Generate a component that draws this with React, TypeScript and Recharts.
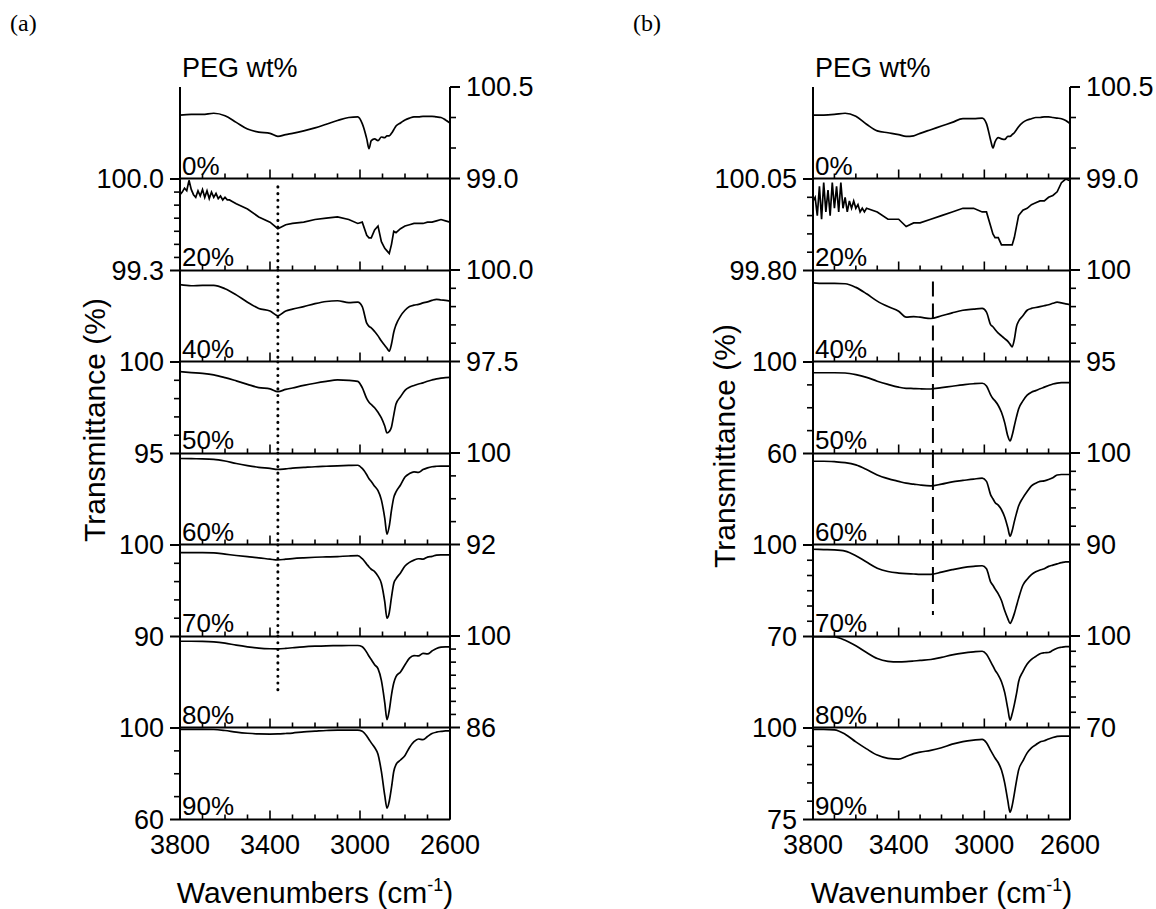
import React from 'react';
import { LineChart, Line, XAxis, YAxis, ReferenceLine } from 'recharts';

// wavenumber grid (cm-1) used by the smooth traces
const WN = [
  3800, 3750, 3700, 3650, 3600, 3550, 3500, 3450, 3400, 3365, 3330, 3300, 3250, 3200, 3150,
  3100, 3050, 3010, 2990, 2970, 2960, 2950, 2935, 2920, 2905, 2890, 2880, 2870, 2860, 2850,
  2840, 2820, 2800, 2780, 2760, 2740, 2720, 2700, 2680, 2660, 2640, 2620, 2600,
];
// the 20 % traces are noisy at the high end, so they get a denser start
const WN_NOISY_HEAD = [
  3800, 3790, 3780, 3770, 3760, 3750, 3740, 3730, 3720, 3710, 3700, 3690, 3680, 3670, 3660,
  3650, 3640, 3630, 3620, 3610, 3600, 3590, 3580, 3570, 3560,
];
const WN_NOISY = [...WN_NOISY_HEAD, ...WN.slice(5)];

const LAYER_LABELS = ['0%', '20%', '40%', '50%', '60%', '70%', '80%', '90%'];
const X_TICKS = [3800, 3700, 3600, 3500, 3400, 3300, 3200, 3100, 3000, 2900, 2800, 2700, 2600];
const X_LABELS = [3800, 3400, 3000, 2600];

// ---- panel (a) transmittance (%) ----
const A_0 = [
  100.04, 100.05, 100.05, 100.07, 100.03, 99.92, 99.81, 99.76, 99.74, 99.69, 99.72, 99.74, 99.78,
  99.83, 99.89, 99.95, 100.0, 100.01, 99.9, 99.65, 99.49, 99.62, 99.65, 99.62, 99.68, 99.67, 99.7,
  99.7, 99.74, 99.8, 99.86, 99.91, 99.96, 99.99, 100.01, 100.01, 100.02, 100.02, 100.02, 100.01,
  100.0, 99.96, 99.91,
];
const A_20 = [
  99.88, 99.9, 99.93, 99.91, 99.99, 99.92, 99.88, 99.86, 99.91, 99.87, 99.92, 99.86, 99.91, 99.85,
  99.9, 99.86, 99.89, 99.85, 99.87, 99.84, 99.86, 99.84, 99.84, 99.83, 99.82,
  99.81, 99.77, 99.71, 99.67, 99.62, 99.65, 99.66, 99.67, 99.69, 99.7, 99.71, 99.69, 99.66, 99.67,
  99.57, 99.55, 99.55, 99.61, 99.64, 99.52, 99.47, 99.45, 99.43, 99.5, 99.6, 99.59, 99.62, 99.64,
  99.65, 99.66, 99.66, 99.66, 99.67, 99.67, 99.68, 99.69, 99.68, 99.67,
];
const A_40 = [
  99.6, 99.57, 99.58, 99.58, 99.49, 99.32, 99.12, 98.95, 98.88, 98.75, 98.88, 98.93, 99.0, 99.08,
  99.14, 99.16, 99.11, 99.12, 99.0, 98.55, 98.46, 98.42, 98.32, 98.2, 98.06, 97.94, 97.86, 97.78,
  97.98, 98.3, 98.5, 98.74, 98.9, 99.0, 99.04, 99.06, 99.1, 99.13, 99.17, 99.2, 99.18, 99.17, 99.15,
];
const A_50 = [
  99.47, 99.42, 99.38, 99.3, 99.15, 98.97, 98.78, 98.6, 98.53, 98.38, 98.5, 98.58, 98.72, 98.84,
  98.94, 99.02, 99.0, 98.94, 98.6, 98.0, 97.8, 97.68, 97.5, 97.25, 96.95, 96.5, 96.12, 96.2, 96.45,
  97.1, 97.7, 98.1, 98.45, 98.62, 98.72, 98.8, 98.86, 98.95, 99.02, 99.08, 99.12, 99.15, 99.16,
];
const A_60 = [
  99.52, 99.5, 99.49, 99.45, 99.3, 99.08, 98.9, 98.75, 98.65, 98.56, 98.62, 98.68, 98.74, 98.8,
  98.84, 98.88, 98.91, 98.93, 98.65, 98.1, 97.75, 97.5, 97.1, 96.7, 95.9, 94.3, 92.9, 93.6, 95.0,
  96.1, 96.6, 97.2, 97.9, 98.2, 98.35, 98.3, 98.55, 98.7, 98.8, 98.84, 98.86, 98.85, 98.85,
];
const A_70 = [
  99.16, 99.16, 99.16, 99.14, 99.0, 98.85, 98.72, 98.6, 98.45, 98.36, 98.45, 98.52, 98.6, 98.66,
  98.7, 98.74, 98.8, 98.83, 98.5, 97.9, 97.6, 97.35, 97.1, 96.6, 95.8, 93.8, 92.0, 92.6, 94.3, 95.8,
  96.3, 96.95, 97.7, 98.1, 98.35, 98.5, 98.45, 98.68, 98.75, 98.9, 98.92, 98.92, 98.92,
];
const A_80 = [
  99.2, 99.2, 99.18, 99.1, 98.9, 98.6, 98.35, 98.15, 98.05, 98.03, 98.1, 98.2, 98.35, 98.44, 98.5,
  98.52, 98.55, 98.55, 98.35, 97.5, 96.9, 96.4, 95.6, 95.0, 93.2, 89.8, 87.2, 88.6, 91.0, 92.8,
  93.8, 94.5, 95.6, 96.6, 97.0, 96.95, 97.35, 97.25, 97.7, 98.1, 98.3, 98.35, 98.35,
];
const A_90 = [
  99.4, 99.4, 99.4, 99.35, 98.9, 98.2, 97.7, 97.4, 97.35, 97.4, 97.6, 97.8, 98.3, 98.6, 98.9, 99.1,
  99.1, 99.1, 98.6, 96.5, 95.0, 93.5, 91.5, 88.5, 81.0, 70.5, 65.0, 68.0, 74.0, 81.0, 84.0, 86.0,
  88.0, 91.5, 94.0, 95.2, 94.9, 96.3, 97.6, 98.2, 98.5, 98.7, 98.7,
];

// ---- panel (b) transmittance (%) ----
const B_0 = [
  100.04, 100.04, 100.05, 100.07, 100.02, 99.89, 99.78, 99.75, 99.72, 99.69, 99.7, 99.74, 99.8,
  99.86, 99.92, 99.98, 99.98, 99.99, 99.9, 99.62, 99.5, 99.6, 99.67, 99.65, 99.64, 99.69, 99.69,
  99.72, 99.75, 99.8, 99.85, 99.92, 99.96, 99.98, 100.0, 100.0, 100.01, 100.01, 100.0, 99.99,
  99.98, 99.95, 99.9,
];
const B_20 = [
  99.99, 100.0, 99.95, 100.03, 99.94, 100.04, 99.96, 100.02, 99.95, 100.04, 99.97, 100.03, 99.96,
  100.04, 99.97, 100.0, 99.96, 99.99, 99.97, 99.99, 99.97, 99.98, 99.96, 99.97, 99.96,
  99.97, 99.96, 99.94, 99.94, 99.92, 99.93, 99.93, 99.94, 99.95, 99.96, 99.97, 99.97, 99.96, 99.96,
  99.92, 99.9, 99.89, 99.89, 99.87, 99.87, 99.87, 99.87, 99.87, 99.89, 99.92, 99.95, 99.965, 99.97,
  99.98, 99.985, 99.99, 99.99, 100.0, 100.005, 100.015, 100.04, 100.05, 100.045,
];
const B_40 = [
  99.3, 99.27, 99.27, 99.25, 99.05, 98.7, 98.3, 98.0, 97.75, 97.42, 97.45, 97.42, 97.35, 97.5,
  97.66, 97.8, 97.86, 97.9, 97.7, 97.0, 96.9, 96.75, 96.55, 96.4, 96.25, 96.1, 95.95, 95.8, 96.2,
  96.9, 97.2, 97.5, 97.8, 97.9, 97.95, 98.0, 98.05, 98.1, 98.18, 98.24, 98.2, 98.15, 98.11,
];
const B_50 = [
  95.3, 95.3, 95.3, 95.2, 94.5, 93.3, 91.6, 90.2, 89.0, 88.5, 88.4, 88.3, 88.2, 88.8, 89.4, 90.0,
  90.5, 90.7, 89.5, 85.5, 84.0, 83.0, 81.0, 78.0, 73.5, 67.5, 65.5, 68.0, 72.0, 76.0, 79.5, 83.0,
  85.5, 86.8, 87.5, 88.3, 89.0, 89.7, 90.4, 90.8, 91.0, 91.0, 91.0,
];
const B_60 = [
  99.1, 99.1, 99.05, 98.95, 98.7, 98.2, 97.6, 97.2, 96.9, 96.7, 96.6, 96.5, 96.4, 96.6, 96.85, 97.0,
  97.15, 97.25, 96.9, 95.4, 95.0, 94.6, 94.3, 93.8, 93.0, 91.8, 90.9, 91.5, 92.5, 93.4, 94.2, 95.1,
  95.8, 96.4, 96.7, 96.9, 96.95, 97.1, 97.3, 97.6, 97.65, 97.65, 97.65,
];
const B_70 = [
  98.6, 98.5, 98.4, 98.0, 96.5, 94.4, 92.4, 91.3, 90.8, 90.6, 90.5, 90.4, 90.4, 91.1, 91.9, 92.6,
  93.0, 93.2, 92.2, 87.8, 86.8, 85.6, 84.0, 81.8, 78.5, 75.8, 74.3, 75.5, 77.5, 80.0, 82.5, 86.8,
  88.8, 90.3, 91.2, 91.8, 92.2, 93.0, 93.4, 93.8, 94.2, 94.5, 94.5,
];
const B_80 = [
  99.8, 99.8, 99.7, 98.6, 96.8, 94.6, 92.6, 91.7, 91.5, 91.6, 91.8, 92.0, 92.3, 93.0, 93.8, 94.4,
  94.8, 95.0, 94.0, 91.5, 90.2, 88.8, 87.2, 85.0, 81.5, 76.0, 72.4, 74.5, 77.5, 81.0, 85.0, 88.3,
  90.8, 92.3, 93.3, 94.2, 94.5, 94.6, 95.3, 96.0, 96.3, 96.5, 96.5,
];
const B_90 = [
  99.6, 99.6, 99.5, 98.3, 96.2, 94.3, 92.6, 91.7, 91.5, 92.2, 93.0, 93.4, 93.9, 94.6, 95.6, 96.3,
  96.7, 96.9, 96.0, 93.8, 92.8, 91.8, 90.5, 88.5, 85.0, 80.0, 77.0, 78.8, 82.0, 85.5, 88.5, 91.0,
  93.2, 94.6, 95.4, 96.2, 96.5, 97.0, 97.4, 97.7, 97.8, 97.8, 97.8,
];

// y ticks for each layer, first/last value is labelled
const A_YTICKS = [
  [99.0, 99.5, 100.0, 100.5],
  [99.3, 99.4, 99.5, 99.6, 99.7, 99.8, 99.9, 100.0],
  [97.5, 98.0, 98.5, 99.0, 99.5, 100.0],
  [95, 96, 97, 98, 99, 100],
  [92, 94, 96, 98, 100],
  [90, 92, 94, 96, 98, 100],
  [86, 88, 90, 92, 94, 96, 98, 100],
  [60, 70, 80, 90, 100],
];
const A_DIGITS = [1, 1, 1, 0, 0, 0, 0, 0];
const B_YTICKS = [
  [99.0, 99.5, 100.0, 100.5],
  [99.8, 99.85, 99.9, 99.95, 100.0, 100.05],
  [95, 96, 97, 98, 99, 100],
  [60, 70, 80, 90, 100],
  [90, 92, 94, 96, 98, 100],
  [70, 75, 80, 85, 90, 95, 100],
  [70, 75, 80, 85, 90, 95, 100],
  [75, 80, 85, 90, 95, 100],
];
const B_DIGITS = [1, 2, 0, 0, 0, 0, 0, 0];

// marker lines: wavenumber, first layer + top value, last layer + bottom value
const A_GUIDE = { wn: 3365, first: 1, from: 99.94, last: 6, to: 91.4 };
const B_GUIDE = { wn: 3240, first: 2, from: 99.37, last: 5, to: 77.05 };

const FONT = '"Liberation Sans", Arial, sans-serif';
const TOP = 87;
const LAYER_H = 91.5;
const PAD = 22;
const BOTTOM_PAD = 46;
const AXW = 125;
const XAX_H = 1;

const PANELS = [
  {
    key: 'a',
    left: 180,
    width: 270,
    wns: [WN, WN_NOISY, WN, WN, WN, WN, WN, WN],
    series: [A_0, A_20, A_40, A_50, A_60, A_70, A_80, A_90],
    yTicks: A_YTICKS,
    digits: A_DIGITS,
    guide: A_GUIDE,
    guideStyle: { dash: '0.1 6.6', width: 3, cap: 'round' as const },
    tag: '(a)',
    tagX: 10,
    xTitle: 'Wavenumbers (cm',
    yTitleX: 105,
    yTitleY: 420,
  },
  {
    key: 'b',
    left: 813,
    width: 257,
    wns: [WN, WN_NOISY, WN, WN, WN, WN, WN, WN],
    series: [B_0, B_20, B_40, B_50, B_60, B_70, B_80, B_90],
    yTicks: B_YTICKS,
    digits: B_DIGITS,
    guide: B_GUIDE,
    guideStyle: { dash: '15 7', width: 2, cap: 'butt' as const },
    tag: '(b)',
    tagX: 633,
    xTitle: 'Wavenumber (cm',
    yTitleX: 735,
    yTitleY: 446,
  },
];

function XTick(props: any) {
  const { x, y, payload, showLabel } = props;
  const major = X_LABELS.includes(payload.value);
  return (
    <g>
      <line x1={x} y1={y} x2={x} y2={y - (major ? 9 : 5)} stroke="#000" strokeWidth={1.6} />
      {showLabel && major && (
        <text x={x} y={y + 34} textAnchor="middle" fontSize={27} fontFamily={FONT} fill="#000">
          {payload.value}
        </text>
      )}
    </g>
  );
}

function YTick(props: any) {
  const { x, y, payload, side, lo, hi, digits } = props;
  const v = payload.value;
  const major = v === lo || v === hi;
  const dir = side === 'left' ? -1 : 1;
  return (
    <g>
      <line x1={x} y1={y} x2={x + dir * (major ? 10 : 6)} y2={y} stroke="#000" strokeWidth={major ? 2 : 1.6} />
      {major && (
        <text
          x={x + dir * 16}
          y={y}
          dy="0.34em"
          textAnchor={side === 'left' ? 'end' : 'start'}
          fontSize={27}
          fontFamily={FONT}
          fill="#000"
        >
          {v.toFixed(digits)}
        </text>
      )}
    </g>
  );
}

function Layer({ p, i }: { p: (typeof PANELS)[number]; i: number }) {
  const ticks = p.yTicks[i];
  const lo = ticks[0];
  const hi = ticks[ticks.length - 1];
  const side = i % 2 === 0 ? 'right' : 'left';
  const last = i === 7;
  const bottomPad = last ? BOTTOM_PAD : PAD;
  const data = p.wns[i].map((wn, k) => ({ wn, t: p.series[i][k] }));
  const g = p.guide;
  const inGuide = i >= g.first && i <= g.last;

  const yAxis = (id: 'left' | 'right') => (
    <YAxis
      yAxisId={id}
      orientation={id}
      width={AXW}
      type="number"
      domain={[lo, hi]}
      ticks={ticks}
      interval={0}
      allowDataOverflow
      tickSize={0}
      tickMargin={0}
      tickLine={false}
      axisLine={{ stroke: '#000', strokeWidth: 2 }}
      tick={id === side ? (tp: any) => <YTick {...tp} side={id} lo={lo} hi={hi} digits={p.digits[i]} /> : false}
    />
  );

  return (
    <div style={{ position: 'absolute', left: p.left - AXW, top: TOP + i * LAYER_H - PAD }}>
      <LineChart
        width={AXW * 2 + p.width}
        height={LAYER_H + PAD + bottomPad}
        data={data}
        margin={{ top: PAD, right: 0, bottom: bottomPad - XAX_H, left: 0 }}
      >
        <XAxis
          type="number"
          dataKey="wn"
          domain={[2600, 3800]}
          reversed
          ticks={X_TICKS}
          interval={0}
          height={XAX_H}
          tickSize={0}
          tickMargin={0}
          tickLine={false}
          allowDataOverflow
          axisLine={{ stroke: '#000', strokeWidth: 2 }}
          tick={(tp: any) => <XTick {...tp} showLabel={last} />}
        />
        {yAxis('left')}
        {yAxis('right')}
        <Line
          yAxisId={side}
          dataKey="t"
          type={i === 1 ? 'linear' : 'monotone'}
          stroke="#000"
          strokeWidth={1.7}
          dot={false}
          activeDot={false}
          isAnimationActive={false}
        />
        {inGuide && (
          <ReferenceLine
            yAxisId={side}
            segment={[
              { x: g.wn, y: i === g.first ? g.from : hi },
              { x: g.wn, y: i === g.last ? g.to : lo },
            ]}
            stroke="#000"
            strokeWidth={p.guideStyle.width}
            strokeDasharray={p.guideStyle.dash}
            strokeLinecap={p.guideStyle.cap}
          />
        )}
      </LineChart>
    </div>
  );
}

function Texts() {
  return (
    <svg
      width={1156}
      height={909}
      style={{ position: 'absolute', left: 0, top: 0, pointerEvents: 'none' }}
      fontFamily={FONT}
      fill="#000"
    >
      {PANELS.map((p) => (
        <g key={p.key}>
          <text x={p.tagX} y={31} fontSize={24} fontFamily='"Liberation Serif", "Times New Roman", serif'>
            {p.tag}
          </text>
          <text x={p.left + 2} y={77} fontSize={27}>
            PEG wt%
          </text>
          {LAYER_LABELS.map((lab, i) => (
            <text key={lab} x={p.left + 2} y={TOP + (i + 1) * LAYER_H - 4} fontSize={26}>
              {lab}
            </text>
          ))}
          <text
            x={p.yTitleX}
            y={p.yTitleY}
            fontSize={30}
            textAnchor="middle"
            transform={`rotate(-90 ${p.yTitleX} ${p.yTitleY})`}
          >
            Transmittance (%)
          </text>
          <text x={p.left + p.width / 2} y={903} fontSize={30} textAnchor="middle">
            {p.xTitle}
            <tspan dy={-12} fontSize={18}>
              -1
            </tspan>
            <tspan dy={12}>)</tspan>
          </text>
        </g>
      ))}
    </svg>
  );
}

export default function App() {
  return (
    <div style={{ position: 'absolute', left: 0, top: 0, width: 1156, height: 909, background: '#fff' }}>
      {PANELS.map((p) => (
        <React.Fragment key={p.key}>
          {LAYER_LABELS.map((lab, i) => (
            <Layer key={lab} p={p} i={i} />
          ))}
        </React.Fragment>
      ))}
      <Texts />
    </div>
  );
}
